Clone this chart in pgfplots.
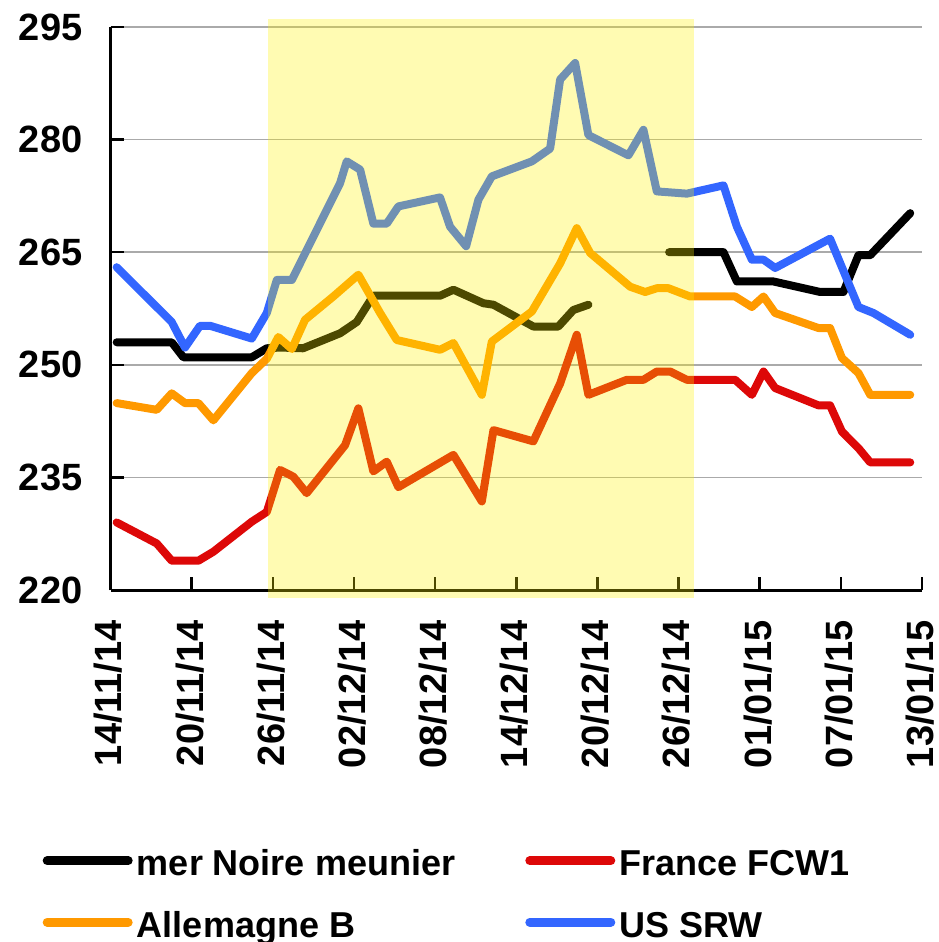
\documentclass[border=0pt]{standalone}
\usepackage{fontspec}
\setmainfont{Liberation Sans}
\usepackage{pgfplots}
\pgfplotsset{compat=1.18}
\usetikzlibrary{calc}
\definecolor{cred}{RGB}{221,8,8}
\definecolor{corange}{RGB}{255,153,0}
\definecolor{cblue}{RGB}{51,102,255}
\definecolor{cgrid}{RGB}{170,170,170}
\begin{document}
\begin{tikzpicture}
\begin{axis}[name=ax, scale only axis, width=811.4pt, height=563pt,
 xmin=0, xmax=60, ymin=220, ymax=295,
 axis x line*=bottom, axis y line*=left,
 axis line style={line width=3pt, -},
 every outer x axis line/.append style={-},
 every outer y axis line/.append style={-},
 tick align=inside, major tick length=13pt,
 tick style={line width=2.5pt, black},
 xtick={0,6,...,60},
 xticklabels={14/11/14,20/11/14,26/11/14,02/12/14,08/12/14,14/12/14,20/12/14,26/12/14,01/01/15,07/01/15,13/01/15},
 ytick={220,235,250,265,280,295},
 yticklabels={220,235,250,265,280,295},
 ymajorgrids, major grid style={cgrid, line width=1.5pt},
 ticklabel style={font=\bfseries\fontsize{38}{38}\selectfont, inner sep=0pt},
 xticklabel style={rotate=90, anchor=east, yshift=2pt},
 yticklabel style={anchor=east},
 xticklabel shift=30pt, yticklabel shift=28pt,
 every axis plot/.append style={line width=8pt, line join=round, line cap=round, no markers},
 unbounded coords=jump,
 clip=false,
 legend columns=2,
 legend style={draw=none, fill=none, inner sep=0pt, outer sep=0pt,
   at={(axis description cs:-0.0837,-0.4613)}, anchor=north west,
   column sep=4.3pt, row sep=27.5pt,
   /tikz/every even column/.append style={column sep=70.2pt},
   nodes={inner sep=0pt, text height=26pt, text depth=8pt, anchor=west,
     font=\bfseries\fontsize{36}{36}\selectfont}},
 legend cell align=left,
 legend image code/.code={\path[draw=none, fill=none] (0pt,-17pt) rectangle (90pt,17pt);
   \draw[line width=9pt, line cap=round, #1] (4.5pt,6pt) -- (85.5pt,6pt);},
]
\addplot[black] coordinates {(0.45,253) (4.52,253) (5.38,251) (10.44,251) (11.55,252.2) (12.53,252.3) (14.23,252.2) (16.97,254.2) (18.2,255.7) (19.43,259.2) (24.36,259.2) (25.35,260) (27.57,258.2) (28.31,258) (31.26,255.1) (33.11,255.1) (34.22,257.3) (35.33,258) (38,nan) (41.3,265) (45.32,265) (46.31,261.1) (49.02,261.1) (52.47,259.7) (54.19,259.7) (55.3,264.6) (56.17,264.6) (59.13,270.2)};
\addlegendentry{mer Noire meunier}
\addplot[cred] coordinates {(0.45,229) (3.41,226.2) (4.52,223.9) (6.49,223.9) (7.6,225.1) (10.44,229.1) (11.55,230.4) (12.53,236) (13.51,235.1) (14.5,232.9) (17.34,239.3) (18.32,244.2) (19.43,235.8) (20.42,237.1) (21.28,233.7) (25.35,238) (27.45,231.8) (28.31,241.3) (31.26,239.8) (33.24,247.5) (34.47,254) (35.33,246) (38.17,248) (39.4,248) (40.39,249.1) (41.38,249.1) (42.61,248) (46.18,248) (47.42,246) (48.28,249.1) (49.14,246.9) (52.34,244.6) (53.2,244.6) (54.08,241.1) (55.3,238.9) (56.17,237) (59.13,237)};
\addlegendentry{France FCW1}
\addplot[corange] coordinates {(0.45,244.9) (3.41,244) (4.52,246.2) (5.5,244.9) (6.49,244.9) (7.6,242.6) (10.44,248.9) (11.55,250.8) (12.4,253.7) (13.4,252.1) (14.38,256) (16.47,259.1) (18.32,262) (19.93,256.9) (21.16,253.3) (24.36,252) (25.35,252.9) (27.45,246) (28.19,253.1) (31.15,257.1) (33.24,263.5) (34.47,268.2) (35.46,264.9) (38.42,260.4) (39.53,259.7) (40.39,260.2) (41.25,260.2) (42.85,259.1) (46.18,259.1) (47.42,257.7) (48.28,259.1) (49.14,256.9) (52.34,254.9) (53.2,254.9) (54.08,250.9) (55.3,248.9) (56.17,246) (59.13,246)};
\addlegendentry{Allemagne B}
\addplot[cblue] coordinates {(0.45,263) (4.52,255.7) (5.5,252.3) (6.61,255.2) (7.35,255.2) (10.44,253.5) (11.55,256.9) (12.29,261.3) (13.4,261.3) (16.97,274.2) (17.46,277.1) (18.45,276) (19.43,268.8) (20.42,268.8) (21.28,271.1) (24.36,272.3) (25.1,268.4) (26.29,265.8) (27.2,272) (28.19,275.1) (31.15,277.1) (32.5,278.8) (33.24,288) (34.35,290.2) (35.33,280.6) (38.29,277.9) (39.4,281.3) (40.39,273.1) (42.61,272.8) (45.32,273.9) (46.31,268.4) (47.42,264) (48.28,264) (49.14,262.9) (53.2,266.8) (55.3,257.7) (56.41,256.9) (59.13,254)};
\addlegendentry{US SRW}
\fill[yellow, opacity=0.3] (axis cs:11.66,219) rectangle (axis cs:43.13,296);
\end{axis}
\pgfresetboundingbox
\path ($(ax.south west)+(-110.6pt,-352pt)$) rectangle ($(ax.north east)+(16pt,27pt)$);
\end{tikzpicture}
\end{document}
